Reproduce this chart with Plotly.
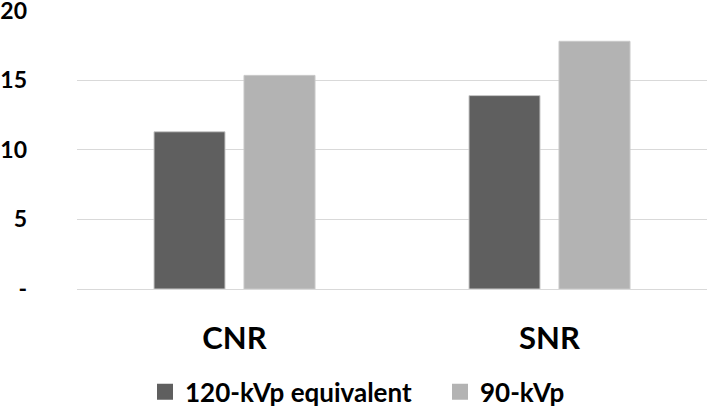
import plotly.graph_objects as go

categories = ["CNR", "SNR"]
series_names = ["120-kVp equivalent", "90-kVp"]
values_120 = [11.3, 13.9]
values_90 = [15.35, 17.8]
tick_vals = [0, 5, 10, 15, 20]
tick_text = ["-", "5", "10", "15", "20"]

colors = ["#5f5f5f", "#b3b3b3"]
legend_ids = ["legend", "legend2"]
font_family = "Lato, 'Open Sans', sans-serif"

fig = go.Figure()
for name, vals, col, lg in zip(series_names, [values_120, values_90], colors, legend_ids):
    fig.add_trace(go.Bar(
        x=categories, y=vals, name=name, showlegend=False,
        marker=dict(color=col, line=dict(color="#c8c8c8", width=1)),
    ))
    fig.add_trace(go.Scatter(
        x=[None], y=[None], mode="markers", name=name, legend=lg,
        marker=dict(symbol="square", size=16, color=col),
    ))

legend_style = dict(
    orientation="h", xref="container", yref="container",
    xanchor="left", y=0.042, yanchor="middle",
    font=dict(size=26, family=font_family, weight="bold"),
    itemsizing="trace", bgcolor="rgba(0,0,0,0)",
)

fig.update_layout(
    width=708, height=409,
    margin=dict(l=77, r=1, t=10, b=120),
    paper_bgcolor="white", plot_bgcolor="white",
    barmode="group", bargap=0.4286, bargroupgap=0.211,
    font=dict(family=font_family, color="#000000"),
    legend=dict(x=145 / 708, **legend_style),
    legend2=dict(x=440 / 708, **legend_style),
    xaxis=dict(
        showgrid=False, showline=False, zeroline=False,
        tickfont=dict(size=31, weight="bold"),
        ticklabelstandoff=28, automargin=False,
    ),
    yaxis=dict(
        range=[0, 20.05], tickvals=tick_vals, ticktext=tick_text,
        showgrid=True, gridcolor="#d9d9d9", gridwidth=1,
        zeroline=True, zerolinecolor="#d9d9d9", zerolinewidth=1,
        showline=False, automargin=False,
        tickfont=dict(size=23, weight="bold"),
        ticklabelstandoff=49, ticklabeloverflow="allow",
    ),
)

fig.write_html("out.html", config={"displayModeBar": False},
               post_script="document.body.style.margin='0';")
